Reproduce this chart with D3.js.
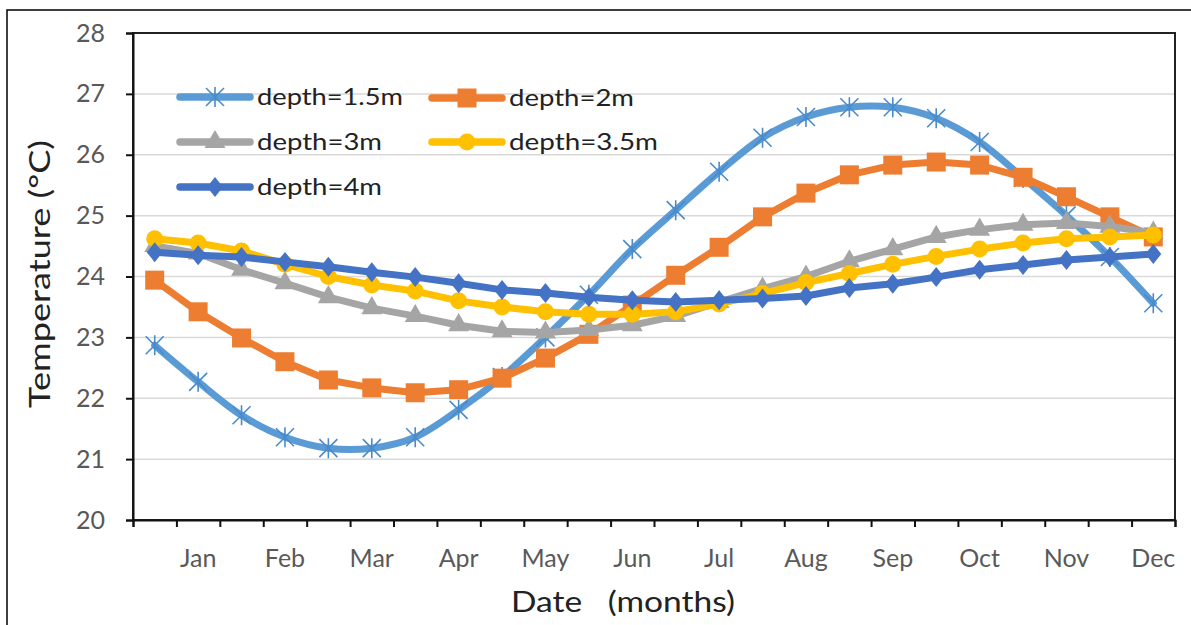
<!DOCTYPE html>
<html>
<head>
<meta charset="utf-8">
<script src="https://cdn.jsdelivr.net/npm/d3@7"></script>
<style>
  html, body { margin: 0; padding: 0; background: #fff; }
  svg { display: block; }
  text { font-family: Lato, "Open Sans", sans-serif; }
</style>
</head>
<body>
<svg id="chart" width="1191" height="625"></svg>
<script>
// ---- data ----
const categoryLabels = ["", "Jan", "", "Feb", "", "Mar", "", "Apr", "", "May", "", "Jun",
                        "", "Jul", "", "Aug", "", "Sep", "", "Oct", "", "Nov", "", "Dec"];
const yTicks = [20, 21, 22, 23, 24, 25, 26, 27, 28];
const seriesNames = ["depth=1.5m", "depth=2m", "depth=3m", "depth=3.5m", "depth=4m"];
const depth15 = [22.87, 22.27, 21.72, 21.36, 21.18, 21.18, 21.36, 21.81, 22.35, 23.0, 23.7, 24.45,
                 25.09, 25.72, 26.28, 26.62, 26.78, 26.78, 26.6, 26.21, 25.62, 25.0, 24.32, 23.56];
const depth2  = [23.94, 23.42, 22.99, 22.6, 22.3, 22.17, 22.09, 22.14, 22.33, 22.66, 23.05, 23.53,
                 24.02, 24.48, 24.98, 25.37, 25.67, 25.83, 25.88, 25.83, 25.63, 25.31, 24.98, 24.65];
const depth3  = [24.5, 24.38, 24.11, 23.89, 23.66, 23.48, 23.35, 23.2, 23.1, 23.08, 23.12, 23.2,
                 23.35, 23.58, 23.8, 24.0, 24.25, 24.45, 24.65, 24.77, 24.85, 24.88, 24.82, 24.72];
const depth35 = [24.62, 24.55, 24.42, 24.2, 24.0, 23.86, 23.76, 23.6, 23.5, 23.42, 23.38, 23.38,
                 23.42, 23.55, 23.72, 23.9, 24.05, 24.2, 24.33, 24.45, 24.55, 24.62, 24.65, 24.68];
const depth4  = [24.4, 24.35, 24.32, 24.24, 24.16, 24.07, 23.99, 23.89, 23.78, 23.73, 23.66, 23.61,
                 23.58, 23.61, 23.64, 23.68, 23.81, 23.88, 23.99, 24.11, 24.19, 24.27, 24.32, 24.37];

// ---- layout ----
const L = 133, R = 1175, T = 33, B = 520;
const svg = d3.select("#chart");

// outer frame
svg.append("rect").attr("x", 7).attr("y", 10).attr("width", 1190).attr("height", 640)
  .attr("fill", "none").attr("stroke", "#000").attr("stroke-width", 1.5);

const idx = d3.range(categoryLabels.length);
const xBand = d3.scaleBand().domain(idx).range([L, R]).padding(0);
const xEdge = d3.scaleLinear().domain([0, categoryLabels.length]).range([L, R]);
const y = d3.scaleLinear().domain([20, 28]).range([B, T]);
const cx = i => xBand(i) + xBand.bandwidth() / 2;

// gridlines
svg.append("g").selectAll("line").data(yTicks.filter(t => t > 20 && t < 28)).join("line")
  .attr("x1", L).attr("x2", R).attr("y1", d => y(d)).attr("y2", d => y(d))
  .attr("stroke", "#d9d9d9").attr("stroke-width", 1.5);

// plot border
svg.append("rect").attr("x", L).attr("y", T).attr("width", R - L).attr("height", B - T)
  .attr("fill", "none").attr("stroke", "#222").attr("stroke-width", 2);

// y axis
const yAxis = svg.append("g").attr("transform", `translate(${L},0)`)
  .call(d3.axisLeft(y).tickValues(yTicks).tickSize(7).tickPadding(21).tickFormat(d3.format("d")));
yAxis.select(".domain").attr("stroke", "#111").attr("stroke-width", 2);
yAxis.selectAll(".tick line").attr("stroke", "#111").attr("stroke-width", 2);
yAxis.selectAll("text").attr("font-size", 25).attr("fill", "#595959")
  .attr("font-family", "Lato, sans-serif");

// x axis edge ticks
const xTicksAxis = svg.append("g").attr("transform", `translate(0,${B})`)
  .call(d3.axisBottom(xEdge).tickValues(d3.range(categoryLabels.length + 1)).tickSize(7).tickFormat(""));
xTicksAxis.select(".domain").attr("stroke", "#111").attr("stroke-width", 2);
xTicksAxis.selectAll(".tick line").attr("stroke", "#111").attr("stroke-width", 2);

// x labels
const xLab = svg.append("g").attr("transform", `translate(0,${B})`)
  .call(d3.axisBottom(xBand).tickSize(0).tickPadding(29).tickFormat(i => categoryLabels[i]));
xLab.select(".domain").remove();
xLab.selectAll("text").attr("font-size", 25).attr("fill", "#595959")
  .attr("font-family", "Lato, sans-serif");

// axis titles
function fitText(sel, target) {
  sel.attr("textLength", target).attr("lengthAdjust", "spacingAndGlyphs");
}
const xTitle = svg.append("text").attr("x", 623).attr("y", 612).attr("text-anchor", "middle")
  .attr("font-size", 28).attr("fill", "#222").attr("xml:space", "preserve").text("Date   (months)");
fitText(xTitle, 224);
const yTitle = svg.append("text").attr("transform", "translate(50,274) rotate(-90)")
  .attr("text-anchor", "middle").attr("font-size", 28).attr("fill", "#222").text("Temperature (°C)");
fitText(yTitle, 268);

// series styles
const colors = ["#5B9BD5", "#ED7D31", "#A5A5A5", "#FFC000", "#4472C4"];
const seriesData = [depth15, depth2, depth3, depth35, depth4];
const curves = [d3.curveCatmullRom, d3.curveLinear, d3.curveLinear, d3.curveLinear, d3.curveLinear];

function drawMarker(g, k) {
  const c = colors[k];
  if (k === 0) {
    g.append("path").attr("d", "M-9,-9L9,9M-9,9L9,-9M0,-10L0,10")
      .attr("stroke", "#4a8bcb").attr("stroke-width", 1.6).attr("fill", "none");
  } else if (k === 1) {
    g.append("rect").attr("x", -9.5).attr("y", -9.5).attr("width", 19).attr("height", 19).attr("fill", c);
  } else if (k === 2) {
    g.append("path").attr("d", d3.symbol(d3.symbolTriangle, 190)()).attr("fill", c);
  } else if (k === 3) {
    g.append("circle").attr("r", 8.5).attr("fill", c);
  } else {
    g.append("path").attr("d", "M0,-10L8,0L0,10L-8,0Z").attr("fill", c);
  }
}

seriesData.forEach((vals, k) => {
  const g = svg.append("g");
  const line = d3.line().x((d, i) => cx(i)).y(d => y(d)).curve(curves[k]);
  g.append("path").datum(vals).attr("d", line).attr("fill", "none")
    .attr("stroke", colors[k]).attr("stroke-width", 7)
    .attr("stroke-linejoin", "round").attr("stroke-linecap", "round");
  vals.forEach((v, i) => {
    const mg = g.append("g").attr("transform", `translate(${cx(i)},${y(v)})`);
    drawMarker(mg, k);
  });
});

// legend
const legendPos = [[180, 97], [432, 98], [180, 142], [432, 142], [180, 187]];
const legendTargets = [146, 125, 125, 149, 125];
seriesNames.forEach((name, k) => {
  const [lx, ly] = legendPos[k];
  const g = svg.append("g").attr("transform", `translate(${lx},${ly})`);
  g.append("line").attr("x1", 0).attr("x2", 70).attr("y1", 0).attr("y2", 0)
    .attr("stroke", colors[k]).attr("stroke-width", 7.5).attr("stroke-linecap", "round");
  const mg = g.append("g").attr("transform", "translate(35,0)");
  drawMarker(mg, k);
  const t = g.append("text").attr("x", 77).attr("y", 8).attr("font-size", 24)
    .attr("fill", "#222").text(name);
  fitText(t, legendTargets[k]);
});
</script>
</body>
</html>
